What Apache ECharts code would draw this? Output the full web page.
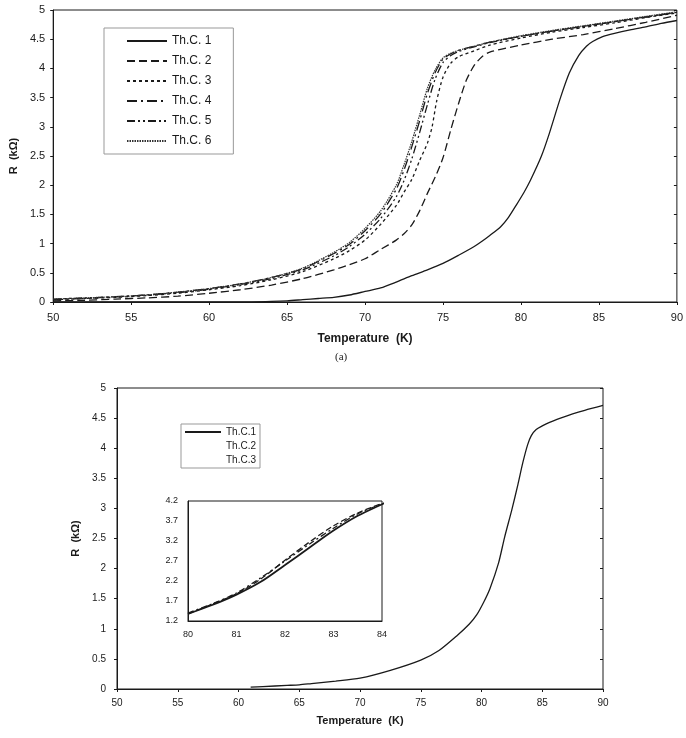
<!DOCTYPE html>
<html><head><meta charset="utf-8">
<script src="https://cdn.jsdelivr.net/npm/echarts@6/dist/echarts.min.js"></script>
<style>html,body{margin:0;padding:0;background:#fff}#c{width:686px;height:738px}</style>
</head><body><div id="c"></div>
<script>
// ---------- Top chart (a) data ----------
const topNames = ['Th.C. 1','Th.C. 2','Th.C. 3','Th.C. 4','Th.C. 5','Th.C. 6'];
const xTicksTop = [50,55,60,65,70,75,80,85,90];

const th1T = [50,55,60,62,64,65,66,67,68,69,70,71,72,73,74,75,76,77,77.5,78,78.7,79.2,79.7,80.2,80.6,81.3,81.8,82.5,83.1,83.7,84.2,84.6,85.2,86,87,88,89,90];
const th1R = [0,0,0,0,0.01,0.02,0.04,0.06,0.08,0.12,0.18,0.24,0.34,0.45,0.55,0.66,0.80,0.95,1.04,1.14,1.29,1.45,1.66,1.88,2.08,2.49,2.87,3.47,3.92,4.22,4.38,4.46,4.54,4.60,4.66,4.71,4.77,4.82];

const th2T = [50,52,54,56,58,60,62,64,66,68,69,70,71,72,72.5,73,73.5,74,74.5,75,75.5,76,76.5,77,77.5,78,80,82,84,86,88,90];
const th2R = [0.02,0.03,0.05,0.07,0.10,0.15,0.21,0.29,0.40,0.55,0.64,0.74,0.90,1.06,1.17,1.32,1.56,1.86,2.14,2.47,2.95,3.40,3.80,4.05,4.20,4.28,4.40,4.50,4.58,4.68,4.79,4.91];

const th3T = [50,52,54,56,58,60,62,64,66,68,69,70,71,72,72.5,73,73.5,74,74.3,74.6,75,75.5,76,77,78,80,82,84,86,88,90];
const th3R = [0.04,0.06,0.08,0.11,0.15,0.21,0.28,0.38,0.52,0.74,0.88,1.06,1.33,1.65,1.88,2.10,2.42,2.72,3.00,3.45,3.85,4.09,4.20,4.30,4.40,4.52,4.62,4.70,4.78,4.87,4.95];

const th4T = [50,52,54,56,58,60,62,64,66,68,69,70,71,72,72.5,73,73.5,74,74.5,75,75.5,76,77,78,80,82,84,86,88,90];
const th4R = [0.04,0.06,0.09,0.12,0.17,0.23,0.31,0.42,0.57,0.83,0.99,1.22,1.51,1.93,2.26,2.66,3.10,3.57,3.93,4.16,4.25,4.31,4.38,4.45,4.55,4.64,4.72,4.80,4.88,4.96];

const th5T = [50,52,54,56,58,60,62,64,66,68,69,70,71,72,72.5,73,73.5,74,74.5,75,75.5,76,77,78,80,82,84,86,88,90];
const th5R = [0.05,0.07,0.09,0.12,0.16,0.22,0.30,0.40,0.55,0.79,0.95,1.16,1.43,1.80,2.08,2.45,2.90,3.38,3.82,4.10,4.22,4.29,4.37,4.44,4.55,4.64,4.72,4.80,4.88,4.96];

const th6T = [50,52,54,56,58,60,62,64,66,68,69,70,71,72,72.5,73,73.5,74,74.5,75,75.5,76,77,78,80,82,84,86,88,90];
const th6R = [0.05,0.07,0.09,0.12,0.17,0.23,0.31,0.42,0.58,0.85,1.02,1.26,1.56,2.00,2.35,2.75,3.20,3.66,3.98,4.18,4.26,4.31,4.38,4.45,4.56,4.65,4.73,4.81,4.89,4.97];

// ---------- Bottom chart data ----------
const botNames = ['Th.C.1','Th.C.2','Th.C.3'];
const b1T = [61,62,64,65,66,68,70,72.5,75,76.5,78,79,79.6,80.2,80.7,81.4,81.9,82.5,83,83.4,83.8,84.1,84.5,85,85.6,86.5,87.5,88.5,90];
const b1R = [0.03,0.04,0.06,0.07,0.09,0.13,0.18,0.31,0.48,0.64,0.89,1.08,1.23,1.45,1.67,2.09,2.52,2.98,3.40,3.76,4.06,4.21,4.31,4.37,4.43,4.50,4.57,4.63,4.71];

// inset (80–84 K)
const in1T = [80,80.5,81,81.5,82,82.5,83,83.5,84,84.1];
const in1R = [1.38,1.60,1.86,2.18,2.60,3.03,3.46,3.83,4.12,4.18];
const in2T = [80,80.5,81,81.5,82,82.5,83,83.5,84];
const in2R = [1.38,1.62,1.88,2.25,2.72,3.17,3.58,3.90,4.14];
const in3T = [80,80.5,81,81.5,82,82.5,83,83.5,84];
const in3R = [1.40,1.63,1.90,2.28,2.70,3.12,3.52,3.88,4.13];

const zip = (a,b) => a.map((v,i)=>[v,b[i]]);
const FONT = '"Liberation Sans", Arial, sans-serif';
const INK = '#1a1a1a';

const dashes = ['solid',[8,4],[3,3],[10,4,2,4],[8,3,2,3,2,3],[1.5,1]];
const topData = [zip(th1T,th1R),zip(th2T,th2R),zip(th3T,th3R),zip(th4T,th4R),zip(th5T,th5R),zip(th6T,th6R)];

function mkX(grid, min, max, interval, opts){
  return [
    Object.assign({gridIndex:grid,type:'value',min,max,interval,
      axisLine:{lineStyle:{color:INK,width:1}},
      axisTick:{length:3,lineStyle:{color:INK}},
      axisLabel:{margin:10,fontSize:11,color:INK,fontFamily:FONT},
      splitLine:{show:false}}, opts||{}),
    {gridIndex:grid,type:'value',min,max,interval,axisLine:{show:false},
      axisTick:{inside:true,length:3,lineStyle:{color:INK}},axisLabel:{show:false},splitLine:{show:false}}
  ];
}
function mkY(grid, min, max, interval, opts){
  return [
    Object.assign({gridIndex:grid,type:'value',min,max,interval,
      axisLine:{lineStyle:{color:INK,width:1}},
      axisTick:{length:3,lineStyle:{color:INK}},
      axisLabel:{margin:8,fontSize:11,color:INK,fontFamily:FONT},
      splitLine:{show:false}}, opts||{}),
    {gridIndex:grid,type:'value',min,max,interval,axisLine:{show:false},
      axisTick:{inside:true,length:3,lineStyle:{color:INK}},axisLabel:{show:false},splitLine:{show:false}}
  ];
}

const xAxes = [
  ...mkX(0,50,90,5,{name:'Temperature  (K)',nameLocation:'middle',nameGap:31,
    nameTextStyle:{fontWeight:'bold',fontSize:12,color:INK,fontFamily:FONT}}),
  ...mkX(1,50,90,5,{axisLabel:{margin:9,fontSize:10,color:INK,fontFamily:FONT},
    name:'Temperature  (K)',nameLocation:'middle',nameGap:26,
    nameTextStyle:{fontWeight:'bold',fontSize:11,color:INK,fontFamily:FONT}}),
  {gridIndex:2,type:'value',min:80,max:84,interval:1,
    axisLine:{lineStyle:{color:INK}},axisTick:{show:false},
    axisLabel:{margin:9,fontSize:9,color:INK,fontFamily:FONT},splitLine:{show:false}}
];
const yAxes = [
  ...mkY(0,0,5,0.5,{name:'R  (kΩ)',nameLocation:'middle',nameGap:29,
    nameTextStyle:{fontWeight:'bold',fontSize:11,color:INK,fontFamily:FONT}}),
  ...mkY(1,0,5,0.5,{axisLabel:{margin:11,fontSize:10,color:INK,fontFamily:FONT},
    name:'R  (kΩ)',nameLocation:'middle',nameGap:28,
    nameTextStyle:{fontWeight:'bold',fontSize:11,color:INK,fontFamily:FONT}}),
  {gridIndex:2,type:'value',min:1.2,max:4.2,interval:0.5,
    axisLine:{lineStyle:{color:INK}},axisTick:{show:false},
    axisLabel:{margin:10,fontSize:9,color:INK,fontFamily:FONT,formatter:v=>v.toFixed(1)},splitLine:{show:false}}
];

const series = [];
topNames.forEach((n,i)=>{
  series.push({name:n,type:'line',xAxisIndex:0,yAxisIndex:0,data:topData[i],
    symbol:'none',showSymbol:false,smooth:0.25,itemStyle:{color:INK},
    lineStyle:{color: i===5 ? '#333' : INK, width: i===5 ? 1.2 : 1.3, type:dashes[i]}});
});
series.push({name:'Th.C.1',type:'line',xAxisIndex:2,yAxisIndex:2,data:zip(b1T,b1R),
  symbol:'none',showSymbol:false,smooth:0.25,itemStyle:{color:INK},lineStyle:{color:INK,width:1.3,type:'solid'}});
series.push({name:'Th.C.1',type:'line',xAxisIndex:4,yAxisIndex:4,data:zip(in1T,in1R),clip:false,
  symbol:'none',showSymbol:false,smooth:0.3,itemStyle:{color:INK},lineStyle:{color:INK,width:1.8,type:'solid'}});
series.push({name:'Th.C.2',type:'line',xAxisIndex:4,yAxisIndex:4,data:zip(in2T,in2R),
  symbol:'none',showSymbol:false,smooth:0.3,itemStyle:{color:INK},lineStyle:{color:INK,width:1.3,type:[6,3]}});
series.push({name:'Th.C.3',type:'line',xAxisIndex:4,yAxisIndex:4,data:zip(in3T,in3R),
  symbol:'none',showSymbol:false,smooth:0.3,itemStyle:{color:INK},lineStyle:{color:INK,width:1.3,type:[6,3,2,3]}});

const chart = echarts.init(document.getElementById('c'), null, {renderer:'canvas'});
chart.setOption({
  backgroundColor:'#fff',
  animation:false,
  textStyle:{fontFamily:FONT},
  grid:[
    {left:47,top:10,width:631,height:292,show:true,borderColor:INK,borderWidth:1,backgroundColor:'transparent'},
    {left:117,top:388,width:486,height:301,show:true,borderColor:INK,borderWidth:1,backgroundColor:'transparent'},
    {left:188,top:501,width:194,height:120,show:true,borderColor:INK,borderWidth:1,backgroundColor:'#fff'}
  ],
  xAxis: xAxes,
  yAxis: yAxes,
  legend:[
    {data:topNames,orient:'vertical',left:104,top:28,itemWidth:40,itemHeight:14,itemGap:8,
      padding:[7,22,7,22],borderColor:'#999',borderWidth:1,backgroundColor:'#fff',
      itemStyle:{opacity:0},
      textStyle:{fontSize:12,color:INK,fontFamily:FONT},selectedMode:false},
    {data:[{name:'Th.C.1'},
           {name:'Th.C.2',lineStyle:{opacity:0}},
           {name:'Th.C.3',lineStyle:{opacity:0}}],
      orient:'vertical',left:181,top:424,itemWidth:36,itemHeight:10,itemGap:4,
      padding:[3,4,3,3],borderColor:'#999',borderWidth:1,backgroundColor:'#fff',
      itemStyle:{opacity:0},
      textStyle:{fontSize:10,color:INK,fontFamily:FONT},selectedMode:false}
  ],
  graphic:[{type:'text',left:335,top:352,style:{text:'(a)',font:'11px "Liberation Serif", serif',fill:INK}}],
  series
});
</script></body></html>
